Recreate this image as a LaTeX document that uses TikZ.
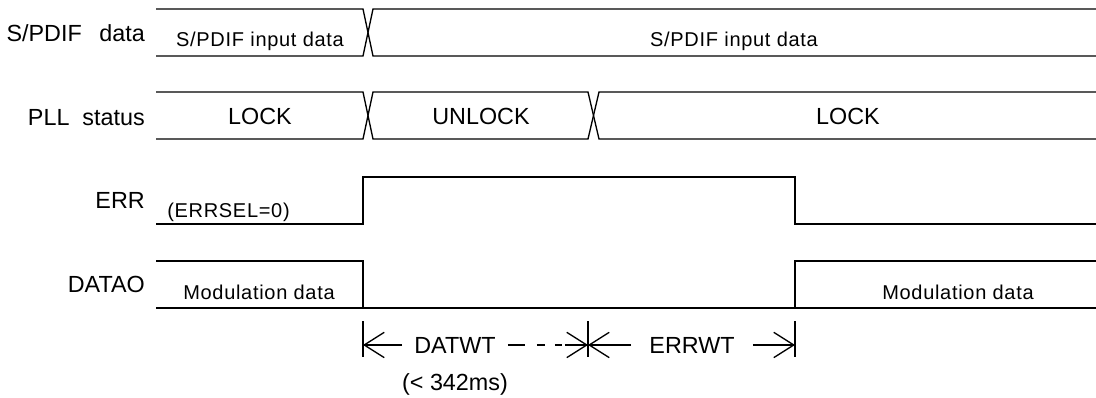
\documentclass[tikz,border=0pt]{standalone}
\usepackage{fontspec}
\setmainfont{Liberation Sans}
\newfontfamily\spacedfont[LetterSpace=3.5]{Liberation Sans}
\usetikzlibrary{arrows.meta}
\begin{document}
\begin{tikzpicture}[x=0.75pt,y=-0.75pt,
  sig/.style={line width=1pt},
  lbl/.style={anchor=base east,inner sep=0pt,font=\fontsize{17.5}{20}\selectfont},
  big/.style={anchor=base,inner sep=0pt,font=\fontsize{17.5}{20}\selectfont},
  small/.style={anchor=base,inner sep=0pt,font=\spacedfont\fontsize{15}{17}\selectfont},
  dim/.style={line width=1pt,-{Straight Barb[length=15pt,width=19pt]}}]
\useasboundingbox (0,0) rectangle (1096,397);
% signal names
\node[lbl] (lspdif) at (145,41) {S/PDIF\hspace{0.75em}data};
\node[lbl] (lpll) at (145,125) {PLL\ \ status};
\node[lbl] (lerr) at (145,208) {ERR};
\node[lbl] (ldatao) at (145,292) {DATAO};
% waveforms
\draw[sig] (156,9) -- (363,9) -- (373,56) -- (1096,56);
\draw[sig] (156,56) -- (363,56) -- (373,9) -- (1096,9);
\draw[sig] (156,92) -- (363,92) -- (373,139) -- (588,139) -- (599,92) -- (1096,92);
\draw[sig] (156,139) -- (363,139) -- (373,92) -- (588,92) -- (599,139) -- (1096,139);
\draw[sig] (156,224) -- (363,224) -- (363,177) -- (795,177) -- (795,224) -- (1096,224);
\draw[sig] (156,261) -- (363,261) -- (363,308);
\draw[sig] (156,308) -- (1096,308);
\draw[sig] (795,308) -- (795,261) -- (1096,261);
% texts on the waveforms
\node[small] (spdifa) at (260,46) {S/PDIF input data};
\node[small] (spdifb) at (734,46) {S/PDIF input data};
\node[big] (locka) at (260,124) {LOCK};
\node[big] (unlock) at (481,124) {UNLOCK};
\node[big] (lockb) at (848,124) {LOCK};
\node[small,anchor=base west] (errsel) at (167,217) {(ERRSEL=0)};
\node[small] (moda) at (259,299) {Modulation data};
\node[small] (modb) at (958,299) {Modulation data};
% wait times
\coordinate (tk1) at (363,339);
\coordinate (tk2) at (588,339);
\coordinate (tk3) at (795,339);
\foreach \t in {tk1,tk2,tk3}
  \draw[sig] (\t) ++(0,-18) -- ++(0,36);
\node[big,inner xsep=9pt] (datwt) at (455,353) {DATWT};
\node[big] (ms) at (455,390) {(< 342ms)};
\node[big,inner xsep=13.5pt] (errwt) at (692,353) {ERRWT};
\draw[dim] (datwt.west) -- (datwt.west -| tk1);
\draw[dim,dash pattern=on 12.75pt off 9pt on 6pt off 7.5pt on 5.25pt off 2.25pt on 18pt off 2pt] (datwt.east) -- (datwt.east -| tk2);
\draw[dim] (errwt.west) -- (errwt.west -| tk2);
\draw[dim] (errwt.east) -- (errwt.east -| tk3);
\end{tikzpicture}
\end{document}
